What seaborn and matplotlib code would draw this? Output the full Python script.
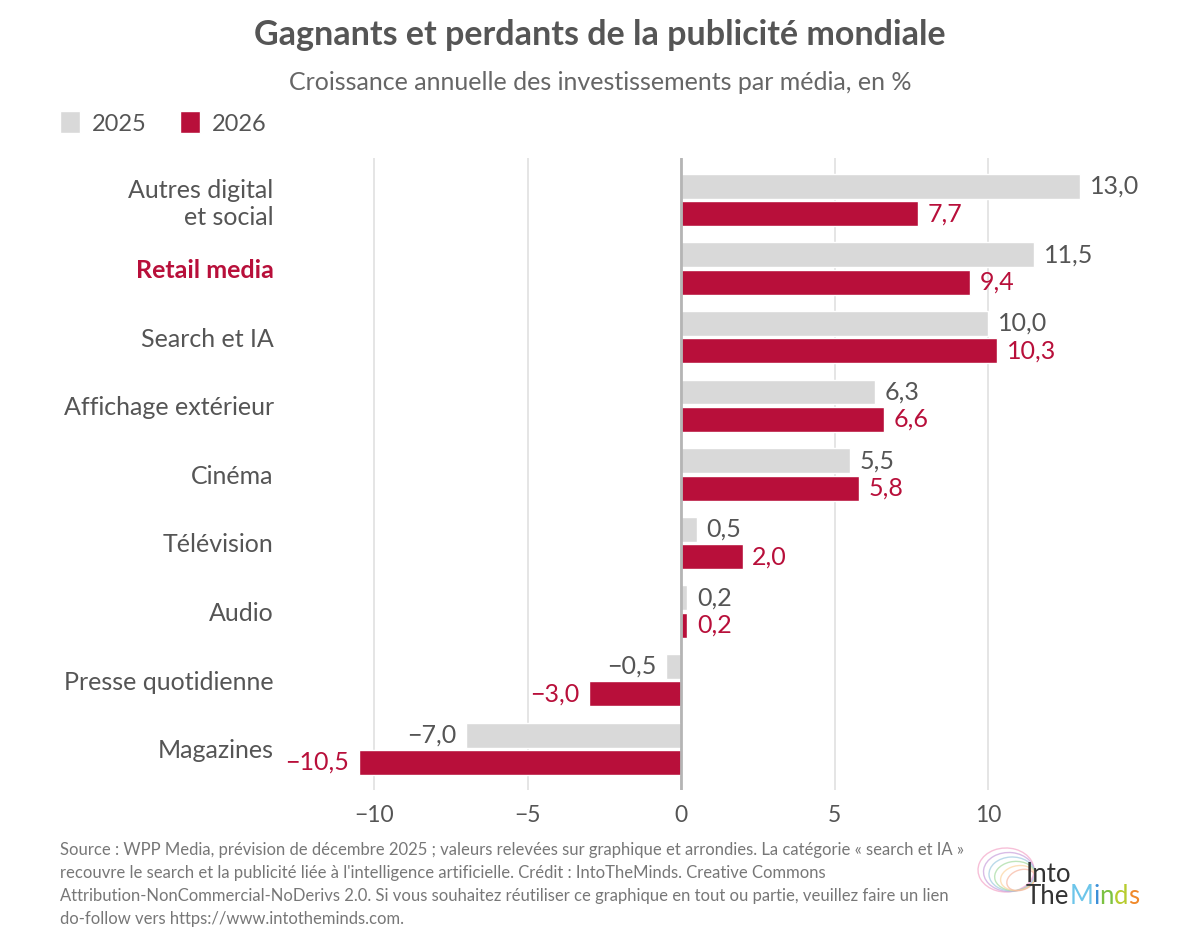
import pandas as pd
import seaborn as sns
import matplotlib.pyplot as plt
from matplotlib.patches import Patch, Ellipse

# Data
medias = ["Autres digital\net social", "Retail media", "Search et IA", "Affichage extérieur",
          "Cinéma", "Télévision", "Audio", "Presse quotidienne", "Magazines"]
years = ["2025", "2026"]
v2025 = [13.0, 11.5, 10.0, 6.3, 5.5, 0.5, 0.2, -0.5, -7.0]
v2026 = [7.7, 9.4, 10.3, 6.6, 5.8, 2.0, 0.2, -3.0, -10.5]
xticks = [-10, -5, 0, 5, 10]

GRAY = "#d9d9d9"
RED = "#b80f3a"
TXT = "#555555"

df = pd.DataFrame({
    "media": medias * 2,
    "annee": ["2025"] * len(medias) + ["2026"] * len(medias),
    "valeur": v2025 + v2026,
})

sns.set_style("white")
plt.rcParams["font.family"] = ["Lato", "DejaVu Sans"]

fig = plt.figure(figsize=(12, 9.44), dpi=100)
ax = fig.add_axes([282 / 1200, 1 - 790 / 944, 829 / 1200, (790 - 158) / 944])

sns.barplot(data=df, y="media", x="valeur", hue="annee", orient="h",
            palette=[GRAY, RED], width=0.8, gap=0.09, saturation=1,
            legend=False, ax=ax)

def fmt(v):
    return f"{v:.1f}".replace(".", ",").replace("-", "\u2212")

for cont, vals, col in zip(ax.containers, [v2025, v2026], [TXT, RED]):
    ax.bar_label(cont, labels=[fmt(v) for v in vals], padding=7,
                 color=col, fontsize=18)

ax.set_xlim(-13, 14)
ax.set_ylim(8.6, -0.61)
ax.set_xticks(xticks)
ax.set_xticklabels([str(t).replace("-", "\u2212") for t in xticks])
ax.set_xlabel("")
ax.set_ylabel("")
ax.tick_params(axis="x", length=0, labelsize=16.5, colors=TXT, pad=11)
ax.tick_params(axis="y", length=0, labelsize=18, colors=TXT, pad=6)
ax.set_axisbelow(True)
ax.grid(axis="x", color="#e3e3e3", lw=1.3)
ax.grid(axis="y", visible=False)
ax.axvline(0, color="#b5b5b5", lw=2, zorder=3)
for s in ax.spines.values():
    s.set_visible(False)

lab = ax.get_yticklabels()[1]
lab.set_color(RED)
lab.set_fontweight("bold")

# Titles
fig.text(0.5, 1 - 35 / 944, "Gagnants et perdants de la publicité mondiale",
         ha="center", va="center", fontsize=24.5, fontweight="bold", color=TXT)
fig.text(0.5, 1 - 83 / 944, "Croissance annuelle des investissements par média, en %",
         ha="center", va="center", fontsize=18, color="#666666")

# Legend
handles = [Patch(facecolor=GRAY), Patch(facecolor=RED)]
fig.legend(handles, years, loc="center left", bbox_to_anchor=(0.042, 1 - 123 / 944),
           ncol=2, frameon=False, fontsize=17, handlelength=0.85, handleheight=1.05,
           handletextpad=0.5, columnspacing=1.4, labelcolor=TXT, borderaxespad=0)

# Footer
footer = ("Source : WPP Media, prévision de décembre 2025 ; valeurs relevées sur graphique et arrondies. La catégorie « search et IA »\n"
          "recouvre le search et la publicité liée à l'intelligence artificielle. Crédit : IntoTheMinds. Creative Commons\n"
          "Attribution-NonCommercial-NoDerivs 2.0. Si vous souhaitez réutiliser ce graphique en tout ou partie, veuillez faire un lien\n"
          "do-follow vers https://www.intotheminds.com.")
fig.text(60 / 1200, 1 - 842 / 944, footer, ha="left", va="top", fontsize=12,
         color="#777777", linespacing=1.53)

# Logo
brain_cols = ["#f4a6c8", "#c9a0dc", "#9ecae1", "#a6dba0", "#fdd49e", "#f7b6a0"]
for i, c in enumerate(brain_cols):
    e = Ellipse(((1006 + i * 3) / 1200, 1 - (870 + i * 2) / 944), (56 - i * 5) / 1200,
                (44 - i * 5) / 944, angle=-20 + i * 12, transform=fig.transFigure,
                fill=False, edgecolor=c, lw=1.0, alpha=0.7)
    fig.add_artist(e)
fig.text(1026 / 1200, 1 - 874 / 944, "Into", ha="left", va="center",
         fontsize=18.5, color="#333333")
fig.canvas.draw()
r = fig.canvas.get_renderer()
xpos = 1026 / 1200
for ch, c in [("The", "#333333"), ("M", "#6cc5ea"), ("i", "#3d8fd8"),
              ("n", "#7cc242"), ("d", "#b7cc2e"), ("s", "#f0892a")]:
    t = fig.text(xpos, 1 - 897 / 944, ch, ha="left", va="center",
                 fontsize=18.5, color=c)
    xpos = t.get_window_extent(r).x1 / fig.bbox.width

fig.savefig("out.png", dpi=100)
